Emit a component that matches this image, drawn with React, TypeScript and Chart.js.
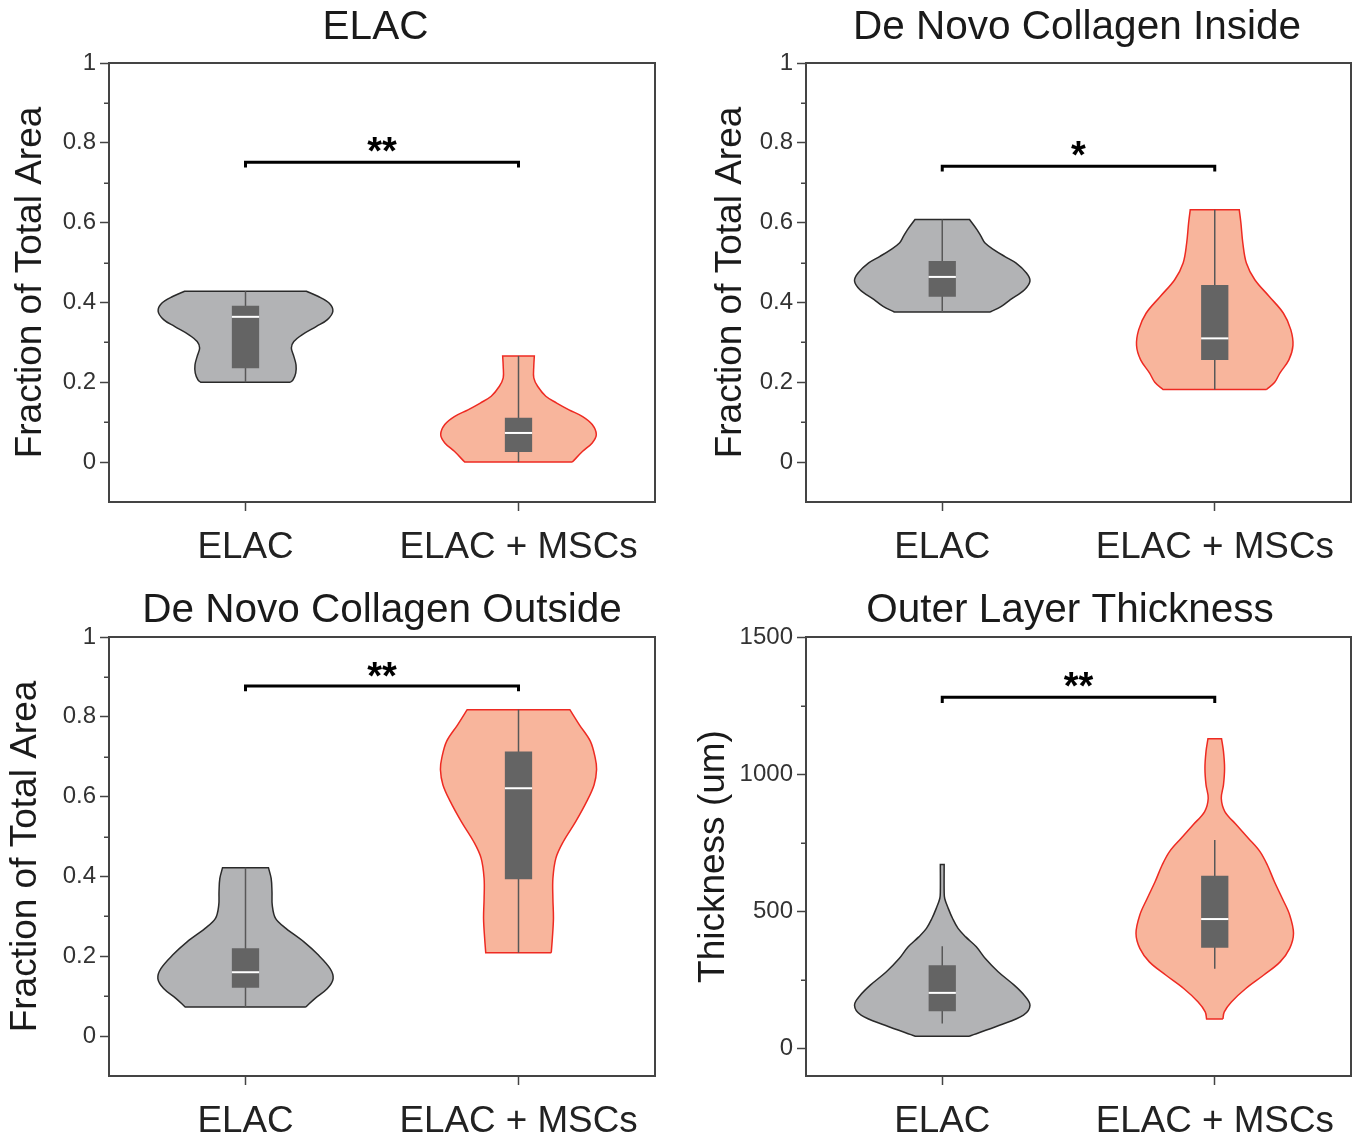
import React, { useEffect, useRef } from 'react';
import { Chart, registerables } from 'chart.js';

Chart.register(...registerables);

const FONT = '"Liberation Sans", Arial, Helvetica, sans-serif';

// ---------- shared labels ----------
const categories = ['ELAC', 'ELAC + MSCs'];
const panelTitles = ['ELAC', 'De Novo Collagen Inside', 'De Novo Collagen Outside', 'Outer Layer Thickness'];
const yAxisTitles = ['Fraction of Total Area', 'Fraction of Total Area', 'Fraction of Total Area', 'Thickness (um)'];
const fractionTicks = [0, 0.2, 0.4, 0.6, 0.8, 1];
const fractionMinorTicks = [0.1, 0.3, 0.5, 0.7, 0.9];
const thicknessTicks = [0, 500, 1000, 1500];
const thicknessMinorTicks = [250, 750, 1250];
const starLabels = ['**', '*', '**', '**'];

// ---------- panel 1: ELAC ----------
const p1ElacLevels = [0.200, 0.206, 0.223, 0.244, 0.265, 0.286, 0.302, 0.319, 0.340, 0.357, 0.378, 0.398, 0.415, 0.428];
const p1ElacWidths = [0.164, 0.174, 0.184, 0.185, 0.177, 0.168, 0.177, 0.207, 0.260, 0.300, 0.320, 0.307, 0.267, 0.223];
const p1MscLevels = [0.000, 0.027, 0.048, 0.069, 0.094, 0.114, 0.131, 0.148, 0.165, 0.190, 0.211, 0.240, 0.266];
const p1MscWidths = [0.197, 0.235, 0.270, 0.285, 0.270, 0.235, 0.185, 0.140, 0.100, 0.070, 0.056, 0.056, 0.058];
// [whisker low, q1, median, q3, whisker high]
const p1ElacStats = [0.200, 0.235, 0.364, 0.392, 0.428];
const p1MscStats = [0.000, 0.025, 0.073, 0.111, 0.266];
const p1Bracket = [0.751, 0.738, 0.795]; // bar, arm end, star centre

// ---------- panel 2: De Novo Collagen Inside ----------
const p2ElacLevels = [0.376, 0.390, 0.407, 0.432, 0.454, 0.474, 0.499, 0.515, 0.532, 0.549, 0.566, 0.582, 0.608];
const p2ElacWidths = [0.176, 0.217, 0.250, 0.302, 0.322, 0.309, 0.270, 0.230, 0.190, 0.157, 0.142, 0.128, 0.100];
const p2MscLevels = [0.182, 0.200, 0.223, 0.256, 0.292, 0.332, 0.373, 0.415, 0.457, 0.499, 0.549, 0.599, 0.632];
const p2MscWidths = [0.190, 0.220, 0.239, 0.272, 0.287, 0.279, 0.252, 0.200, 0.147, 0.116, 0.103, 0.096, 0.090];
const p2ElacStats = [0.376, 0.414, 0.464, 0.504, 0.608];
const p2MscStats = [0.182, 0.256, 0.310, 0.444, 0.632];
const p2Bracket = [0.741, 0.728, 0.787];

// ---------- panel 3: De Novo Collagen Outside ----------
const p3ElacLevels = [0.073, 0.094, 0.119, 0.144, 0.169, 0.203, 0.236, 0.270, 0.295, 0.328, 0.362, 0.395, 0.422];
const p3ElacWidths = [0.221, 0.254, 0.300, 0.321, 0.310, 0.267, 0.214, 0.148, 0.110, 0.098, 0.097, 0.094, 0.084];
const p3MscLevels = [0.209, 0.245, 0.295, 0.345, 0.395, 0.446, 0.487, 0.538, 0.588, 0.630, 0.668, 0.697, 0.739, 0.780, 0.818];
const p3MscWidths = [0.120, 0.124, 0.128, 0.126, 0.126, 0.137, 0.164, 0.210, 0.250, 0.277, 0.286, 0.281, 0.263, 0.223, 0.188];
const p3ElacStats = [0.073, 0.121, 0.160, 0.220, 0.422];
const p3MscStats = [0.209, 0.393, 0.621, 0.713, 0.818];
const p3Bracket = [0.877, 0.864, 0.919];

// ---------- panel 4: Outer Layer Thickness ----------
const p4ElacLevels = [45, 85, 122, 158, 195, 231, 280, 328, 371, 407, 438, 474, 511, 547, 572, 671];
const p4ElacWidths = [0.099, 0.210, 0.298, 0.322, 0.300, 0.264, 0.205, 0.158, 0.125, 0.086, 0.058, 0.038, 0.022, 0.009, 0.007, 0.007];
const p4MscLevels = [108, 134, 170, 219, 268, 316, 365, 420, 487, 547, 608, 669, 718, 766, 815, 864, 912, 961, 1022, 1083, 1129];
const p4MscWidths = [0.030, 0.035, 0.061, 0.114, 0.180, 0.240, 0.275, 0.289, 0.275, 0.248, 0.219, 0.193, 0.166, 0.124, 0.080, 0.037, 0.024, 0.032, 0.036, 0.032, 0.025];
const p4ElacStats = [91, 136, 203, 304, 373];
const p4MscStats = [291, 367, 472, 630, 760];
const p4Bracket = [1280, 1259, 1344];

// ---------- styling ----------
const GRAY_FILL = '#b2b3b5';
const GRAY_LINE = '#2a2a2a';
const SALMON_FILL = '#f8b59c';
const SALMON_LINE = '#ee2a22';
const BOX_COLOR = '#646464';
const AXIS_COLOR = '#444444';
const BOX_HALF = 0.05;
const TITLE_SIZE = 40.5;
const AXIS_TITLE_SIZE = 37;
const CAT_SIZE = 36.8;
const TICK_SIZE = 24;

type Layout = {
  x: number; y: number; w: number; h: number;
  l: number; t: number; r: number; b: number;
  titleCY: number; axisTitleX: number;
};

const layouts: Layout[] = [
  { x: 0, y: 0, w: 751, h: 570, l: 109, t: 63, r: 655, b: 502, titleCY: 27.7, axisTitleX: 30.5 },
  { x: 680, y: 0, w: 794, h: 570, l: 806, t: 63, r: 1351, b: 502, titleCY: 27.7, axisTitleX: 731 },
  { x: 0, y: 570, w: 764, h: 566, l: 109, t: 637, r: 655, b: 1076, titleCY: 610.5, axisTitleX: 26 },
  { x: 680, y: 570, w: 780, h: 566, l: 806, t: 637, r: 1351, b: 1076, titleCY: 610.5, axisTitleX: 714 },
];

const panels = [
  { elac: [p1ElacLevels, p1ElacWidths], msc: [p1MscLevels, p1MscWidths], elacStats: p1ElacStats, mscStats: p1MscStats, bracket: p1Bracket, yMin: -0.1, yMax: 1, major: fractionTicks, minor: fractionMinorTicks },
  { elac: [p2ElacLevels, p2ElacWidths], msc: [p2MscLevels, p2MscWidths], elacStats: p2ElacStats, mscStats: p2MscStats, bracket: p2Bracket, yMin: -0.1, yMax: 1, major: fractionTicks, minor: fractionMinorTicks },
  { elac: [p3ElacLevels, p3ElacWidths], msc: [p3MscLevels, p3MscWidths], elacStats: p3ElacStats, mscStats: p3MscStats, bracket: p3Bracket, yMin: -0.1, yMax: 1, major: fractionTicks, minor: fractionMinorTicks },
  { elac: [p4ElacLevels, p4ElacWidths], msc: [p4MscLevels, p4MscWidths], elacStats: p4ElacStats, mscStats: p4MscStats, bracket: p4Bracket, yMin: -100, yMax: 1500, major: thicknessTicks, minor: thicknessMinorTicks },
];

function violinPoints(center: number, levels: number[], widths: number[]) {
  const n = levels.length;
  const right = levels.map((lv, i) => ({ x: center + widths[i], y: lv }));
  const left = levels.map((lv, i) => ({ x: center - widths[i], y: lv })).reverse();
  return [
    ...right,
    { ...right[n - 1] },
    { ...left[0] },
    ...left,
    { ...left[n - 1] },
    { ...right[0] },
  ];
}

function groupDatasets(center: number, levels: number[], widths: number[], stats: number[], fill: string, line: string) {
  const [lo, q1, med, q3, hi] = stats;
  return [
    {
      data: violinPoints(center, levels, widths),
      borderColor: line, borderWidth: 1.5, backgroundColor: fill,
      fill: 'shape', tension: 0.35, pointRadius: 0, order: 5,
    },
    {
      data: [{ x: center, y: lo }, { x: center, y: hi }],
      borderColor: '#585858', borderWidth: 1.5, fill: false, tension: 0, pointRadius: 0, order: 4,
    },
    {
      data: [
        { x: center - BOX_HALF, y: q1 }, { x: center + BOX_HALF, y: q1 },
        { x: center + BOX_HALF, y: q3 }, { x: center - BOX_HALF, y: q3 },
        { x: center - BOX_HALF, y: q1 },
      ],
      borderColor: BOX_COLOR, borderWidth: 0, backgroundColor: BOX_COLOR,
      fill: 'shape', tension: 0, pointRadius: 0, order: 3,
    },
    {
      data: [{ x: center - BOX_HALF, y: med }, { x: center + BOX_HALF, y: med }],
      borderColor: '#ffffff', borderWidth: 2, fill: false, tension: 0, pointRadius: 0, order: 2,
    },
  ];
}

const panelDecor = {
  id: 'panelDecor',
  afterDatasetsDraw(chart: any, _args: any, opts: any) {
    const { ctx, chartArea: a, scales } = chart;
    const x = scales.x;
    const y = scales.y;
    ctx.save();
    ctx.strokeStyle = AXIS_COLOR;
    ctx.lineWidth = 2;
    ctx.strokeRect(a.left, a.top, a.right - a.left, a.bottom - a.top);
    ctx.lineWidth = 1.5;
    (opts.minor as number[]).forEach((v) => {
      const py = Math.round(y.getPixelForValue(v)) + 0.25;
      ctx.beginPath();
      ctx.moveTo(a.left - 5, py);
      ctx.lineTo(a.left, py);
      ctx.stroke();
    });
    ctx.font = `bold 38px ${FONT}`;
    ctx.fillStyle = '#000';
    ctx.textAlign = 'center';
    ctx.textBaseline = 'alphabetic';
    const m = ctx.measureText(opts.stars);
    const cy = y.getPixelForValue(opts.starLevel);
    ctx.fillText(opts.stars, x.getPixelForValue(1.5), cy + (m.actualBoundingBoxAscent - m.actualBoundingBoxDescent) / 2);
    ctx.restore();
  },
};

function buildConfig(i: number): any {
  const L = layouts[i];
  const P = panels[i];
  const titleLH = TITLE_SIZE * 1.2;
  const axisTitleLH = AXIS_TITLE_SIZE * 1.2;
  const datasets: any[] = [
    ...groupDatasets(1, P.elac[0], P.elac[1], P.elacStats, GRAY_FILL, GRAY_LINE),
    ...groupDatasets(2, P.msc[0], P.msc[1], P.mscStats, SALMON_FILL, SALMON_LINE),
    {
      data: [
        { x: 1, y: P.bracket[1] }, { x: 1, y: P.bracket[0] },
        { x: 2, y: P.bracket[0] }, { x: 2, y: P.bracket[1] },
      ],
      borderColor: '#000', borderWidth: 3, fill: false, tension: 0, pointRadius: 0,
      borderJoinStyle: 'miter', order: 1,
    },
  ];
  return {
    type: 'line',
    data: { datasets },
    plugins: [panelDecor],
    options: {
      responsive: false,
      animation: false,
      events: [],
      layout: { padding: 0 },
      plugins: {
        legend: { display: false },
        tooltip: { enabled: false },
        title: {
          display: true,
          text: panelTitles[i],
          color: '#1a1a1a',
          font: { family: FONT, size: TITLE_SIZE, weight: 'normal', lineHeight: 1.2 },
          padding: { top: L.titleCY - L.y - titleLH / 2, bottom: L.t - L.titleCY - titleLH / 2 },
        },
        panelDecor: { minor: P.minor, stars: starLabels[i], starLevel: P.bracket[2] },
      },
      scales: {
        x: {
          type: 'linear', min: 0.5, max: 2.5,
          afterBuildTicks: (s: any) => { s.ticks = [1, 2].map((v) => ({ value: v })); },
          afterFit: (s: any) => { s.height = L.y + L.h - L.b; },
          ticks: {
            callback: (v: number) => categories[Math.round(v) - 1],
            font: { family: FONT, size: CAT_SIZE }, color: '#222', padding: 15,
            maxRotation: 0, minRotation: 0, autoSkip: false,
          },
          grid: { drawOnChartArea: false, drawTicks: true, tickLength: 9, tickColor: AXIS_COLOR, tickWidth: 1.5 },
          border: { display: false },
        },
        y: {
          type: 'linear', min: P.yMin, max: P.yMax,
          afterBuildTicks: (s: any) => { s.ticks = P.major.map((v) => ({ value: v })); },
          afterFit: (s: any) => { s.width = L.l - L.x; },
          ticks: {
            callback: (v: number) => String(Math.round(v * 1000) / 1000),
            font: { family: FONT, size: TICK_SIZE }, color: '#333', padding: 4, autoSkip: false,
          },
          grid: { drawOnChartArea: false, drawTicks: true, tickLength: 9, tickColor: AXIS_COLOR, tickWidth: 1.5 },
          border: { display: false },
          title: {
            display: true,
            text: yAxisTitles[i],
            color: '#1a1a1a',
            font: { family: FONT, size: AXIS_TITLE_SIZE, lineHeight: 1.2 },
            padding: { top: L.axisTitleX - L.x - axisTitleLH / 2, bottom: 0 },
          },
        },
        // empty right-hand spacer so the chart area ends where the frame ends
        yRight: {
          type: 'linear', position: 'right', min: 0, max: 1, display: true,
          afterFit: (s: any) => { s.width = L.x + L.w - L.r; },
          ticks: { display: false },
          grid: { display: false, drawTicks: false },
          border: { display: false },
        },
      },
    },
  };
}

function Panel({ index }: { index: number }) {
  const ref = useRef<HTMLCanvasElement>(null);
  const L = layouts[index];
  useEffect(() => {
    if (!ref.current) return;
    const chart = new Chart(ref.current, buildConfig(index));
    return () => chart.destroy();
  }, [index]);
  return (
    <canvas
      ref={ref}
      width={L.w}
      height={L.h}
      style={{ position: 'absolute', left: L.x, top: L.y, width: L.w, height: L.h }}
    />
  );
}

export default function App() {
  return (
    <div
      style={{
        position: 'absolute', left: 0, top: 0, width: 1360, height: 1136,
        overflow: 'hidden', background: '#ffffff',
      }}
    >
      {[0, 1, 2, 3].map((i) => (
        <Panel key={i} index={i} />
      ))}
    </div>
  );
}
